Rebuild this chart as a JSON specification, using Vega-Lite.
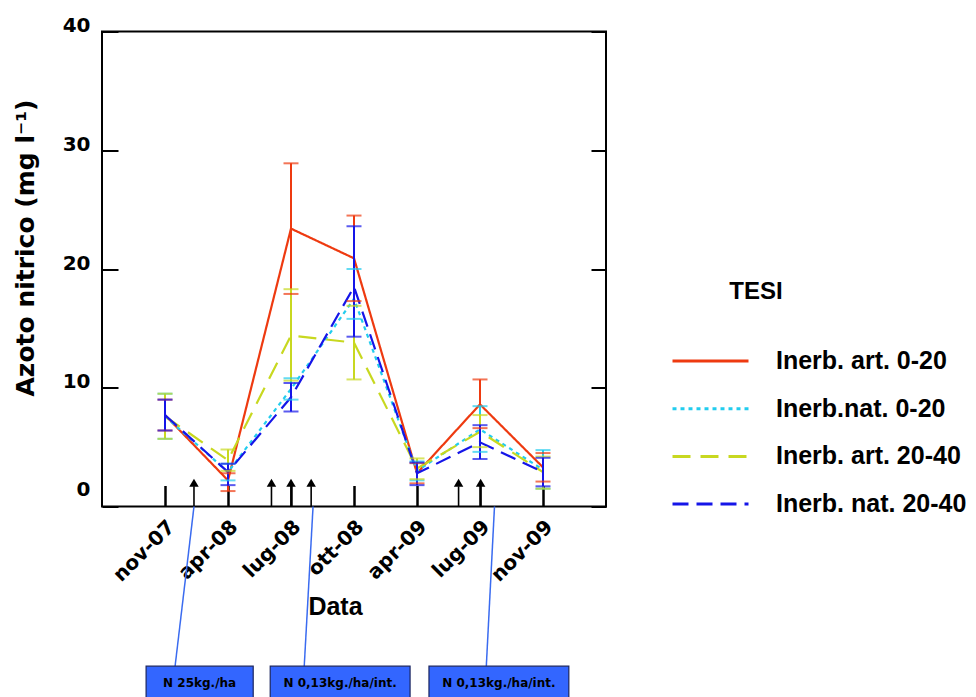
{
  "$schema": "https://vega.github.io/schema/vega-lite/v6.json",
  "width": 504,
  "height": 475,
  "autosize": {"type": "none"},
  "padding": {"left": 102, "top": 31.5, "right": 370, "bottom": 190.5},
  "background": "#ffffff",
  "config": {
    "view": {"stroke": "#000000", "strokeWidth": 2},
    "axis": {
      "domain": false,
      "grid": false,
      "tickColor": "#000000",
      "tickWidth": 2,
      "labelColor": "#000000",
      "titleColor": "#000000",
      "labelFont": "DejaVu Sans",
      "labelFontWeight": "bold",
      "labelFontSize": 19
    }
  },
  "datasets": {
    "series": [
      {"data": "nov-07", "t": 1, "tesi": "Inerb. art. 0-20", "v": 7.7, "lo": 6.4, "hi": 9.0},
      {"data": "apr-08", "t": 2, "tesi": "Inerb. art. 0-20", "v": 2.2, "lo": 1.3, "hi": 2.8},
      {"data": "lug-08", "t": 3, "tesi": "Inerb. art. 0-20", "v": 23.4, "lo": 17.9, "hi": 28.9},
      {"data": "ott-08", "t": 4, "tesi": "Inerb. art. 0-20", "v": 20.9, "lo": 17.3, "hi": 24.5},
      {"data": "apr-09", "t": 5, "tesi": "Inerb. art. 0-20", "v": 2.8, "lo": 1.95, "hi": 3.65},
      {"data": "lug-09", "t": 6, "tesi": "Inerb. art. 0-20", "v": 8.6, "lo": 6.6, "hi": 10.7},
      {"data": "nov-09", "t": 7, "tesi": "Inerb. art. 0-20", "v": 3.3, "lo": 2.1, "hi": 4.5},

      {"data": "nov-07", "t": 1, "tesi": "Inerb.nat. 0-20", "v": 7.6, "lo": 5.7, "hi": 9.5},
      {"data": "apr-08", "t": 2, "tesi": "Inerb.nat. 0-20", "v": 2.9, "lo": 2.2, "hi": 3.6},
      {"data": "lug-08", "t": 3, "tesi": "Inerb.nat. 0-20", "v": 9.9, "lo": 9.0, "hi": 10.8},
      {"data": "ott-08", "t": 4, "tesi": "Inerb.nat. 0-20", "v": 17.5, "lo": 15.8, "hi": 20.0},
      {"data": "apr-09", "t": 5, "tesi": "Inerb.nat. 0-20", "v": 3.0, "lo": 2.2, "hi": 3.8},
      {"data": "lug-09", "t": 6, "tesi": "Inerb.nat. 0-20", "v": 6.5, "lo": 4.6, "hi": 8.45},
      {"data": "nov-09", "t": 7, "tesi": "Inerb.nat. 0-20", "v": 3.1, "lo": 1.5, "hi": 4.75},

      {"data": "nov-07", "t": 1, "tesi": "Inerb. art. 20-40", "v": 7.6, "lo": 5.7, "hi": 9.5},
      {"data": "apr-08", "t": 2, "tesi": "Inerb. art. 20-40", "v": 3.9, "lo": 3.0, "hi": 4.8},
      {"data": "lug-08", "t": 3, "tesi": "Inerb. art. 20-40", "v": 14.4, "lo": 10.6, "hi": 18.3},
      {"data": "ott-08", "t": 4, "tesi": "Inerb. art. 20-40", "v": 13.8, "lo": 10.7, "hi": 16.9},
      {"data": "apr-09", "t": 5, "tesi": "Inerb. art. 20-40", "v": 3.2, "lo": 2.3, "hi": 4.05},
      {"data": "lug-09", "t": 6, "tesi": "Inerb. art. 20-40", "v": 6.3, "lo": 5.0, "hi": 7.7},
      {"data": "nov-09", "t": 7, "tesi": "Inerb. art. 20-40", "v": 2.9, "lo": 1.5, "hi": 4.2},

      {"data": "nov-07", "t": 1, "tesi": "Inerb. nat. 20-40", "v": 7.7, "lo": 6.4, "hi": 9.0},
      {"data": "apr-08", "t": 2, "tesi": "Inerb. nat. 20-40", "v": 2.9, "lo": 1.8, "hi": 3.6},
      {"data": "lug-08", "t": 3, "tesi": "Inerb. nat. 20-40", "v": 9.2, "lo": 8.0, "hi": 10.4},
      {"data": "ott-08", "t": 4, "tesi": "Inerb. nat. 20-40", "v": 18.5, "lo": 14.3, "hi": 23.6},
      {"data": "apr-09", "t": 5, "tesi": "Inerb. nat. 20-40", "v": 2.8, "lo": 1.8, "hi": 3.7},
      {"data": "lug-09", "t": 6, "tesi": "Inerb. nat. 20-40", "v": 5.4, "lo": 4.0, "hi": 6.85},
      {"data": "nov-09", "t": 7, "tesi": "Inerb. nat. 20-40", "v": 2.9, "lo": 1.7, "hi": 4.1}
    ],
    "fertilizzazioni": [
      {"t": 1.46}, {"t": 2.69}, {"t": 3.0}, {"t": 3.32}, {"t": 5.66}, {"t": 6.01}
    ],
    "note": [
      {"testo": "N 25kg./ha", "da": 0.70, "a": 2.40, "centro": 1.55, "asse": 1.46, "aggancio": 1.16},
      {"testo": "N 0,13kg./ha/int.", "da": 2.67, "a": 4.89, "centro": 3.78, "asse": 3.35, "aggancio": 3.21},
      {"testo": "N 0,13kg./ha/int.", "da": 5.19, "a": 7.41, "centro": 6.30, "asse": 6.23, "aggancio": 6.10}
    ],
    "intestazione": [
      {"testo": "TESI"}
    ]
  },
  "layer": [
    {
      "data": {"name": "series"},
      "mark": {"type": "line", "strokeWidth": 2.2},
      "encoding": {
        "x": {
          "field": "t",
          "type": "quantitative",
          "scale": {"domain": [0, 8]},
          "axis": {
            "orient": "bottom",
            "values": [1, 2, 3, 4, 5, 6, 7],
            "labelExpr": "['', 'nov-07', 'apr-08', 'lug-08', 'ott-08', 'apr-09', 'lug-09', 'nov-09'][datum.value]",
            "labelAngle": -45,
            "labelAlign": "right",
            "labelBaseline": "middle",
            "labelFontSize": 20,
            "labelOffset": 6,
            "labelOverlap": false,
            "labelBound": false,
            "tickSize": -21,
            "tickWidth": 2.5,
            "labelPadding": 38,
            "title": "Data",
            "titleFont": "Liberation Sans",
            "titleFontSize": 25,
            "titleFontWeight": "bold",
            "titleX": 233,
            "titleY": 100,
            "titleBaseline": "middle",
            "titleAlign": "center"
          }
        },
        "y": {
          "field": "v",
          "type": "quantitative",
          "scale": {"domain": [0, 40]},
          "axis": {
            "orient": "left",
            "values": [0, 10, 20, 30, 40],
            "tickSize": -16,
            "labelPadding": 28,
            "labelFontSize": 20,
            "labelBaseline": "alphabetic",
            "labelOffset": {"condition": {"test": "datum.value === 0", "value": -11}, "value": 0},
            "title": "Azoto nitrico (mg l⁻¹)",
            "titleFont": "DejaVu Sans",
            "titleFontSize": 25,
            "titleFontWeight": "bold",
            "titleX": -77,
            "titleY": 216,
            "titleAngle": -90,
            "titleAlign": "center",
            "titleBaseline": "middle"
          }
        },
        "color": {
          "field": "tesi",
          "type": "nominal",
          "scale": {
            "domain": ["Inerb. art. 0-20", "Inerb.nat. 0-20", "Inerb. art. 20-40", "Inerb. nat. 20-40"],
            "range": ["#EE3A10", "#22CCEE", "#C8D820", "#1515E8"]
          },
          "legend": {
            "orient": "none",
            "legendX": 569,
            "legendY": 314.5,
            "title": null,
            "padding": 0,
            "symbolType": "stroke",
            "symbolSize": 5776,
            "symbolStrokeWidth": 3,
            "clipHeight": 30,
            "rowPadding": 17.7,
            "labelFont": "Liberation Sans",
            "labelFontSize": 25,
            "labelFontWeight": "bold",
            "labelColor": "#000000",
            "labelOffset": 26,
            "labelLimit": 400
          }
        },
        "strokeDash": {
          "field": "tesi",
          "type": "nominal",
          "scale": {
            "domain": ["Inerb. art. 0-20", "Inerb.nat. 0-20", "Inerb. art. 20-40", "Inerb. nat. 20-40"],
            "range": [[1, 0], [4, 4], [18, 10], [16, 8]]
          },
          "legend": {
            "orient": "none",
            "legendX": 569,
            "legendY": 314.5,
            "title": null,
            "padding": 0,
            "symbolType": "stroke",
            "symbolSize": 5776,
            "symbolStrokeWidth": 3,
            "clipHeight": 30,
            "rowPadding": 17.7,
            "labelFont": "Liberation Sans",
            "labelFontSize": 25,
            "labelFontWeight": "bold",
            "labelColor": "#000000",
            "labelOffset": 26,
            "labelLimit": 400
          }
        }
      }
    },
    {
      "data": {"name": "series"},
      "mark": {"type": "rule", "strokeWidth": 2},
      "encoding": {
        "x": {"field": "t", "type": "quantitative"},
        "y": {
          "field": "lo",
          "type": "quantitative",
          "axis": {
            "orient": "right",
            "values": [0, 10, 20, 30, 40],
            "tickSize": -15,
            "labels": false,
            "title": null
          }
        },
        "y2": {"field": "hi"},
        "color": {"field": "tesi", "type": "nominal", "legend": null}
      }
    },
    {
      "data": {"name": "series"},
      "mark": {"type": "tick", "orient": "horizontal", "size": 15, "thickness": 2},
      "encoding": {
        "x": {"field": "t", "type": "quantitative"},
        "y": {"field": "lo", "type": "quantitative", "axis": null},
        "color": {"field": "tesi", "type": "nominal", "legend": null}
      }
    },
    {
      "data": {"name": "series"},
      "mark": {"type": "tick", "orient": "horizontal", "size": 15, "thickness": 2},
      "encoding": {
        "x": {"field": "t", "type": "quantitative"},
        "y": {"field": "hi", "type": "quantitative", "axis": null},
        "color": {"field": "tesi", "type": "nominal", "legend": null}
      }
    },
    {
      "data": {"name": "fertilizzazioni"},
      "mark": {"type": "rule", "color": "#000000", "strokeWidth": 1.6},
      "encoding": {
        "x": {"field": "t", "type": "quantitative"},
        "y": {"datum": 0, "type": "quantitative", "axis": null},
        "y2": {"datum": 1.7}
      }
    },
    {
      "data": {"name": "fertilizzazioni"},
      "mark": {"type": "point", "shape": "triangle-up", "filled": true, "color": "#000000", "size": 90, "opacity": 1},
      "encoding": {
        "x": {"field": "t", "type": "quantitative"},
        "y": {"datum": 2.0, "type": "quantitative", "axis": null}
      }
    },
    {
      "data": {"name": "note"},
      "mark": {"type": "rule", "color": "#3A6BF0", "strokeWidth": 1.5},
      "encoding": {
        "x": {"field": "asse", "type": "quantitative"},
        "x2": {"field": "aggancio"},
        "y": {"datum": 0, "type": "quantitative", "axis": null},
        "y2": {"datum": -13.45}
      }
    },
    {
      "data": {"name": "note"},
      "mark": {"type": "rect", "color": "#3366FF", "stroke": "#1A2560", "strokeWidth": 1.2, "opacity": 1},
      "encoding": {
        "x": {"field": "da", "type": "quantitative"},
        "x2": {"field": "a"},
        "y": {"datum": -13.45, "type": "quantitative", "axis": null},
        "y2": {"datum": -16.6}
      }
    },
    {
      "data": {"name": "note"},
      "mark": {"type": "text", "font": "DejaVu Sans", "fontSize": 12, "fontWeight": "bold", "color": "#000000", "align": "center", "baseline": "middle"},
      "encoding": {
        "x": {"field": "centro", "type": "quantitative"},
        "y": {"datum": -14.85, "type": "quantitative", "axis": null},
        "text": {"field": "testo"}
      }
    },
    {
      "data": {"name": "intestazione"},
      "mark": {"type": "text", "font": "Liberation Sans", "fontSize": 24, "fontWeight": "bold", "color": "#000000", "align": "center", "baseline": "middle"},
      "encoding": {
        "x": {"datum": 10.38, "type": "quantitative"},
        "y": {"datum": 18.06, "type": "quantitative", "axis": null},
        "text": {"field": "testo"}
      }
    }
  ],
  "resolve": {"axis": {"y": "independent"}}
}
